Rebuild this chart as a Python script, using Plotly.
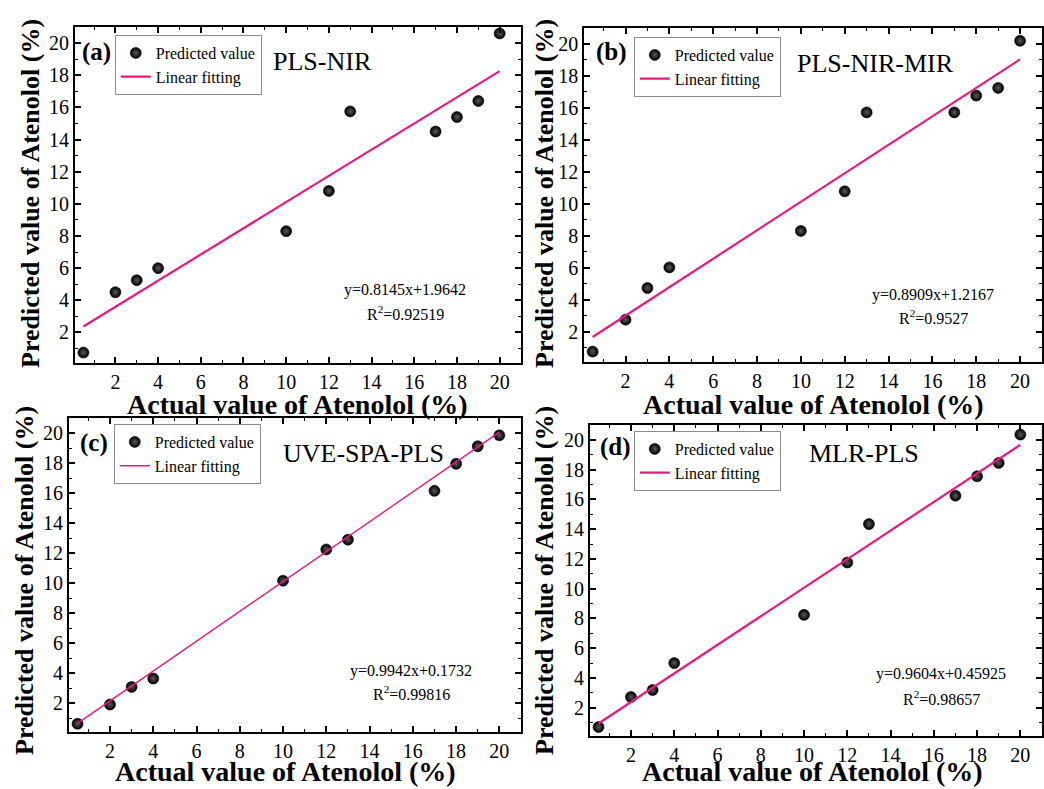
import plotly.graph_objects as go

W, H = 1044, 789

# ---------------- data ----------------
actual = [0.5, 2, 3, 4, 10, 12, 13, 17, 18, 19, 20]
pred_a = [0.75, 4.5, 5.25, 6.0, 8.3, 10.8, 15.75, 14.5, 15.4, 16.4, 20.6]
pred_b = [0.75, 2.75, 4.73, 6.02, 8.3, 10.78, 15.72, 15.72, 16.77, 17.25, 20.2]
pred_c = [0.65, 1.93, 3.1, 3.66, 10.17, 12.25, 12.9, 16.15, 17.95, 19.12, 19.85]
pred_d = [0.7, 2.72, 3.19, 5.0, 8.24, 11.76, 14.34, 16.25, 17.55, 18.45, 20.36]

slopes = [0.8145, 0.8909, 0.9942, 0.9604]
intercepts = [1.9642, 1.2167, 0.1732, 0.45925]
eq_texts = ["y=0.8145x+1.9642", "y=0.8909x+1.2167", "y=0.9942x+0.1732", "y=0.9604x+0.45925"]
r2_texts = ["R<sup>2</sup>=0.92519", "R<sup>2</sup>=0.9527", "R<sup>2</sup>=0.99816", "R<sup>2</sup>=0.98657"]
panel_labels = ["(a)", "(b)", "(c)", "(d)"]
method_names = ["PLS-NIR", "PLS-NIR-MIR", "UVE-SPA-PLS", "MLR-PLS"]
preds = [pred_a, pred_b, pred_c, pred_d]

x_title = "Actual value of Atenolol (%)"
y_title = "Predicted value of Atenolol (%)"
legend_names = ["Predicted value", "Linear fitting"]

FONT = "Liberation Serif, Times New Roman, serif"
PINK = "#E8197F"

# ---------------- layout geometry (pixels) ----------------
# (left, right, top, bottom)
boxes = [(75, 522, 27, 363), (585, 1044, 28, 362), (69, 522, 418, 732), (591, 1044, 425, 736)]
line_widths = [2.2, 2.2, 1.4, 2.2]
legend_pos = [(115, 35), (635, 37), (114, 424), (635, 431)]
label_pos = [(97, 52), (613, 52), (94, 443), (617, 447)]
method_pos = [(272, 62), (797, 64), (282, 454), (809, 454)]
eq_pos = [(406, 290, 313), (935, 295, 317), (412, 671, 693), (943, 674, 698)]
ytitle_pos = [(30, 193), (545, 193), (24, 580), (545, 580)]
xtitle_pos = [(298, 404), (815, 404), (286, 771), (814, 771)]


def px(x):
    return x / W


def py(y):
    return 1 - y / H


fig = go.Figure()
annotations = []
for i in range(4):
    n = "" if i == 0 else str(i + 1)
    xa, ya = "x" + n, "y" + n
    lg = "legend" + n
    pred = preds[i]
    fig.add_trace(go.Scatter(
        x=actual, y=pred, mode="markers", name=legend_names[0],
        xaxis=xa, yaxis=ya, legend=lg,
        marker=dict(size=11, color="black",
                    gradient=dict(type="radial", color="#5a5a5a"),
                    line=dict(width=0.6, color="black")),
    ))
    xfit = [min(actual), max(actual)]
    yfit = [slopes[i] * v + intercepts[i] for v in xfit]
    fig.add_trace(go.Scatter(
        x=xfit, y=yfit, mode="lines", name=legend_names[1],
        xaxis=xa, yaxis=ya, legend=lg,
        line=dict(color=PINK, width=line_widths[i]),
    ))
    l, r, t, b = boxes[i]
    common = dict(
        range=[0.1, 21], dtick=2, tick0=0, showline=True, linecolor="black", linewidth=1.5,
        mirror="allticks", ticks="inside", ticklen=6, tickwidth=1.5, tickcolor="black",
        minor=dict(ticks="inside", ticklen=3, tickwidth=1.2, tickcolor="black", dtick=1),
        showgrid=False, zeroline=False,
        tickfont=dict(family=FONT, size=20, color="black"),
    )
    fig.layout["xaxis" + n] = dict(common, domain=[px(l), px(r)], anchor=ya)
    fig.layout["yaxis" + n] = dict(common, domain=[py(b), py(t)], anchor=xa)

    lx, ly = legend_pos[i]
    fig.layout[lg] = dict(
        x=px(lx), y=py(ly), xanchor="left", yanchor="top",
        bgcolor="white", bordercolor="#8c8c8c", borderwidth=1,
        font=dict(family=FONT, size=16, color="black"),
        itemwidth=30, tracegroupgap=0,
    )

    annotations.append(dict(text="<b>" + panel_labels[i] + "</b>", x=px(label_pos[i][0]), y=py(label_pos[i][1]),
                            xref="paper", yref="paper", showarrow=False, xanchor="center", yanchor="middle",
                            font=dict(family=FONT, size=25, color="black")))
    annotations.append(dict(text=method_names[i], x=px(method_pos[i][0]), y=py(method_pos[i][1]),
                            xref="paper", yref="paper", showarrow=False, xanchor="left", yanchor="middle",
                            font=dict(family=FONT, size=26, color="black")))
    ex, ey1, ey2 = eq_pos[i]
    annotations.append(dict(text=eq_texts[i], x=px(ex), y=py(ey1), xref="paper", yref="paper",
                            showarrow=False, xanchor="center", yanchor="middle",
                            font=dict(family=FONT, size=16, color="black")))
    annotations.append(dict(text=r2_texts[i], x=px(ex), y=py(ey2), xref="paper", yref="paper",
                            showarrow=False, xanchor="center", yanchor="middle",
                            font=dict(family=FONT, size=16, color="black")))
    annotations.append(dict(text="<b>" + y_title + "</b>", x=px(ytitle_pos[i][0]), y=py(ytitle_pos[i][1]),
                            xref="paper", yref="paper", showarrow=False, textangle=-90,
                            xanchor="center", yanchor="middle",
                            font=dict(family=FONT, size=26, color="black")))
    annotations.append(dict(text="<b>" + x_title + "</b>", x=px(xtitle_pos[i][0]), y=py(xtitle_pos[i][1]),
                            xref="paper", yref="paper", showarrow=False,
                            xanchor="center", yanchor="middle",
                            font=dict(family=FONT, size=28, color="black")))

fig.update_layout(
    width=W, height=H, margin=dict(l=0, r=0, t=0, b=0),
    paper_bgcolor="white", plot_bgcolor="white",
    annotations=annotations, showlegend=True,
)

fig.write_html(
    "out.html",
    config={"displayModeBar": False},
    post_script="document.body.style.margin='0';document.body.style.overflow='hidden';",
)
